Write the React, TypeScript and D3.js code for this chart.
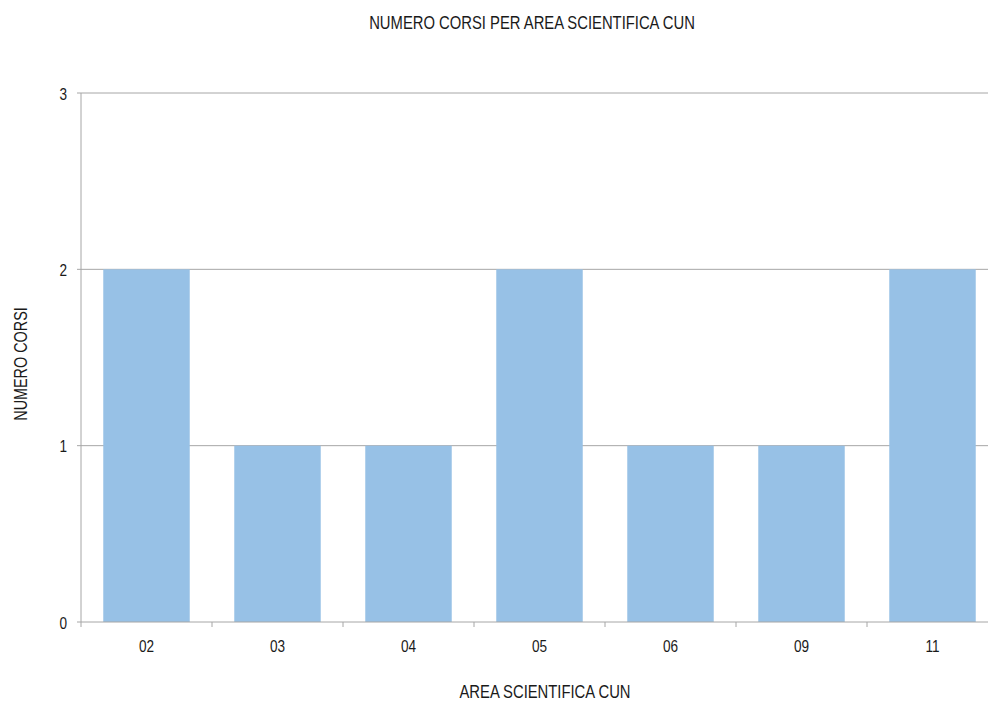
import React from "react";
import * as d3 from "d3";

const categories = ["02", "03", "04", "05", "06", "09", "11"];
const values = [2, 1, 1, 2, 1, 1, 2];
const yTicks = [0, 1, 2, 3];

const W = 988;
const H = 701;
const margin = { left: 81, right: -10, top: 93, bottom: 79 };
const FONT = "'Liberation Sans Narrow', 'Arial Narrow', 'Liberation Sans', Arial, sans-serif";

type LabelProps = {
  x: number;
  y: number;
  size: number;
  squeeze?: number;
  anchor?: "start" | "middle" | "end";
  rotate?: number;
  children: React.ReactNode;
};

// Condensed text: horizontally squeezed around its anchor point.
function Label({ x, y, size, squeeze = 0.8, anchor = "middle", rotate = 0, children }: LabelProps) {
  return (
    <text
      transform={`translate(${x},${y}) rotate(${rotate}) scale(${squeeze},1)`}
      textAnchor={anchor}
      fontSize={size}
      fill="#1a1a1a"
    >
      {children}
    </text>
  );
}

export default function App() {
  const x = d3
    .scaleBand<string>()
    .domain(categories)
    .range([margin.left, W - margin.right])
    .paddingInner(0.34)
    .paddingOuter(0.17);
  const y = d3.scaleLinear().domain([0, 3]).range([H - margin.bottom, margin.top]);
  const step = x.step();
  const x0 = margin.left;

  return (
    <svg
      width={W}
      height={H}
      style={{ position: "absolute", left: 0, top: 0, background: "#fff" }}
      fontFamily={FONT}
    >
      <Label x={532} y={29} size={19} squeeze={0.78}>
        NUMERO CORSI PER AREA SCIENTIFICA CUN
      </Label>

      {yTicks.map((t) => (
        <g key={t}>
          {t > 0 && (
            <line x1={x0} x2={W - margin.right} y1={y(t)} y2={y(t)} stroke="#a6a6a6" strokeWidth={1} />
          )}
          <line x1={x0 - 4} x2={x0} y1={y(t)} y2={y(t)} stroke="#a6a6a6" />
          <Label x={x0 - 14} y={y(t) + 6.5} size={17} anchor="end">
            {t}
          </Label>
        </g>
      ))}

      {categories.map((c, i) => (
        <rect
          key={c}
          x={x(c)}
          y={y(values[i])}
          width={x.bandwidth()}
          height={y(0) - y(values[i])}
          fill="#97c1e6"
        />
      ))}

      <line x1={x0} x2={x0} y1={y(3)} y2={y(0)} stroke="#a6a6a6" />
      <line x1={x0} x2={W - margin.right} y1={y(0)} y2={y(0)} stroke="#a6a6a6" />
      {d3.range(categories.length + 1).map((i) => (
        <line
          key={i}
          x1={x0 + i * step}
          x2={x0 + i * step}
          y1={y(0)}
          y2={y(0) + 5}
          stroke="#a6a6a6"
        />
      ))}
      {categories.map((c) => (
        <Label key={c} x={(x(c) ?? 0) + x.bandwidth() / 2} y={y(0) + 30} size={17}>
          {c}
        </Label>
      ))}

      <Label x={545} y={698} size={19} squeeze={0.78}>
        AREA SCIENTIFICA CUN
      </Label>
      <Label x={27} y={364} size={18} rotate={-90}>
        NUMERO CORSI
      </Label>
    </svg>
  );
}
